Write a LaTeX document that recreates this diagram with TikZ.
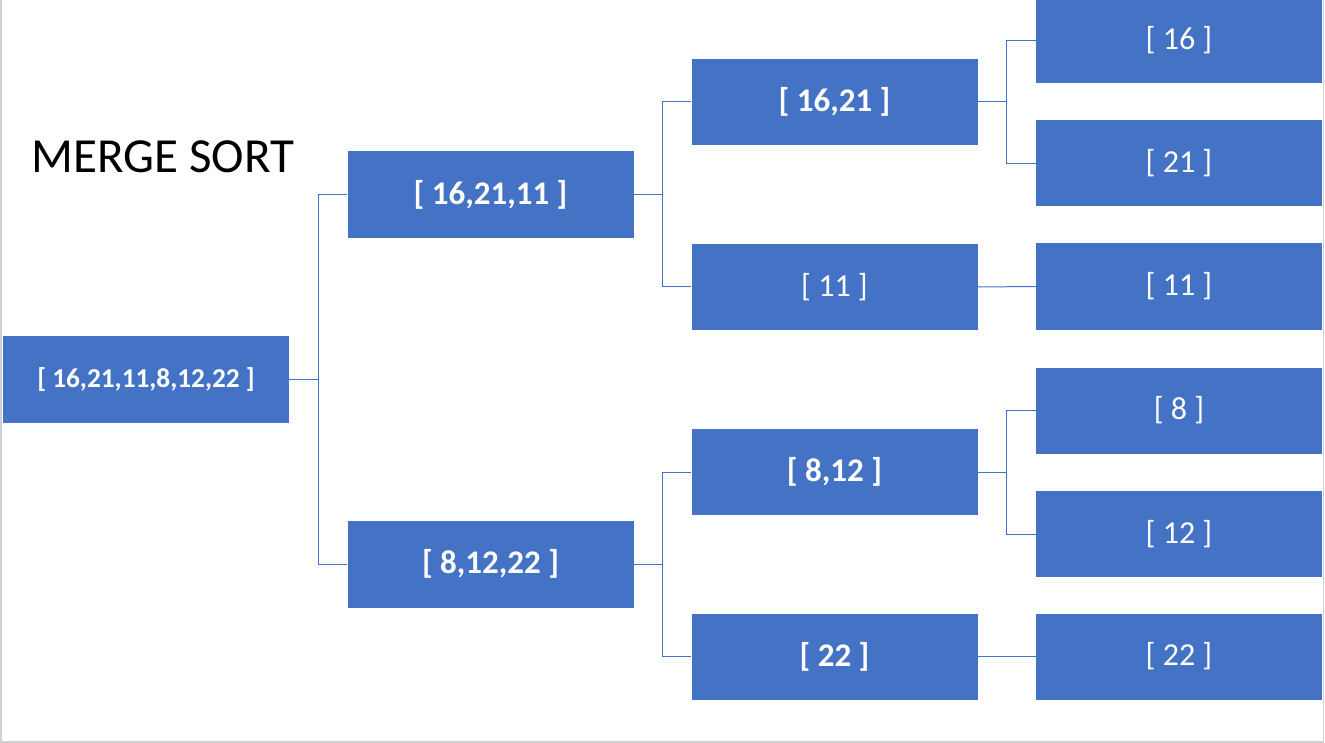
\documentclass[tikz,border=0pt]{standalone}
\usepackage{fontspec}
\setmainfont{Carlito}
\definecolor{boxblue}{HTML}{4472C4}
\definecolor{framegray}{HTML}{D0D0D0}
\begin{document}
\begin{tikzpicture}[x=1pt,y=-1pt,
  box/.style={fill=boxblue, minimum width=286pt, minimum height=86pt, inner sep=0pt,
    text=white, font=\fontsize{32}{38}\selectfont},
  boldbox/.style={box, font=\fontsize{33}{40}\selectfont\bfseries},
  rootbox/.style={box, minimum height=87pt, font=\fontsize{27.3}{33}\selectfont\bfseries},
  link/.style={draw=boxblue, line width=1pt}]
\useasboundingbox (0,0) rectangle (1325,743);
\clip (0,0) rectangle (1325,743);
\draw[framegray, line width=1.5pt] (1,-2) -- (1,742) -- (1323.5,742) -- (1323.5,-2);

\node[anchor=base west, font=\fontsize{49}{57}\selectfont] (title) at (28,173) {MERGE SORT};

\node[rootbox] (root) at (146,379.5) {[ 16,21,11,8,12,22 ]};

\node[boldbox, minimum height=87pt] (a) at (490.5,194.5) {[ 16,21,11 ]};
\node[boldbox, minimum height=87pt] (b) at (490.5,564) {[ 8,12,22 ]};

\node[boldbox] (aa) at (834.5,102) {[ 16,21 ]};
\node[box] (ab) at (834.5,287) {[ 11 ]};
\node[boldbox] (ba) at (834.5,472) {[ 8,12 ]};
\node[boldbox] (bb) at (834.5,656.5) {[ 22 ]};

\node[box] (aaa) at (1179,40.5) {[ 16 ]};
\node[box] (aab) at (1179,163.5) {[ 21 ]};
\node[box] (aba) at (1179,286.5) {[ 11 ]};
\node[box] (baa) at (1179,410.5) {[ 8 ]};
\node[box] (bab) at (1179,534) {[ 12 ]};
\node[box] (bba) at (1179,656.5) {[ 22 ]};

\draw[link] (root.east) -- ++(29,0) |- (a.west);
\draw[link] (root.east) -- ++(29,0) |- (b.west);
\draw[link] (a.east) -- ++(29,0) |- (aa.west);
\draw[link] (a.east) -- ++(29,0) |- (ab.west);
\draw[link] (b.east) -- ++(29,0) |- (ba.west);
\draw[link] (b.east) -- ++(29,0) |- (bb.west);
\draw[link] (aa.east) -- ++(29,0) |- (aaa.west);
\draw[link] (aa.east) -- ++(29,0) |- (aab.west);
\draw[link] (ba.east) -- ++(29,0) |- (baa.west);
\draw[link] (ba.east) -- ++(29,0) |- (bab.west);
\draw[link] (ab.east) -- (aba.west);
\draw[link] (bb.east) -- (bba.west);
\end{tikzpicture}
\end{document}
